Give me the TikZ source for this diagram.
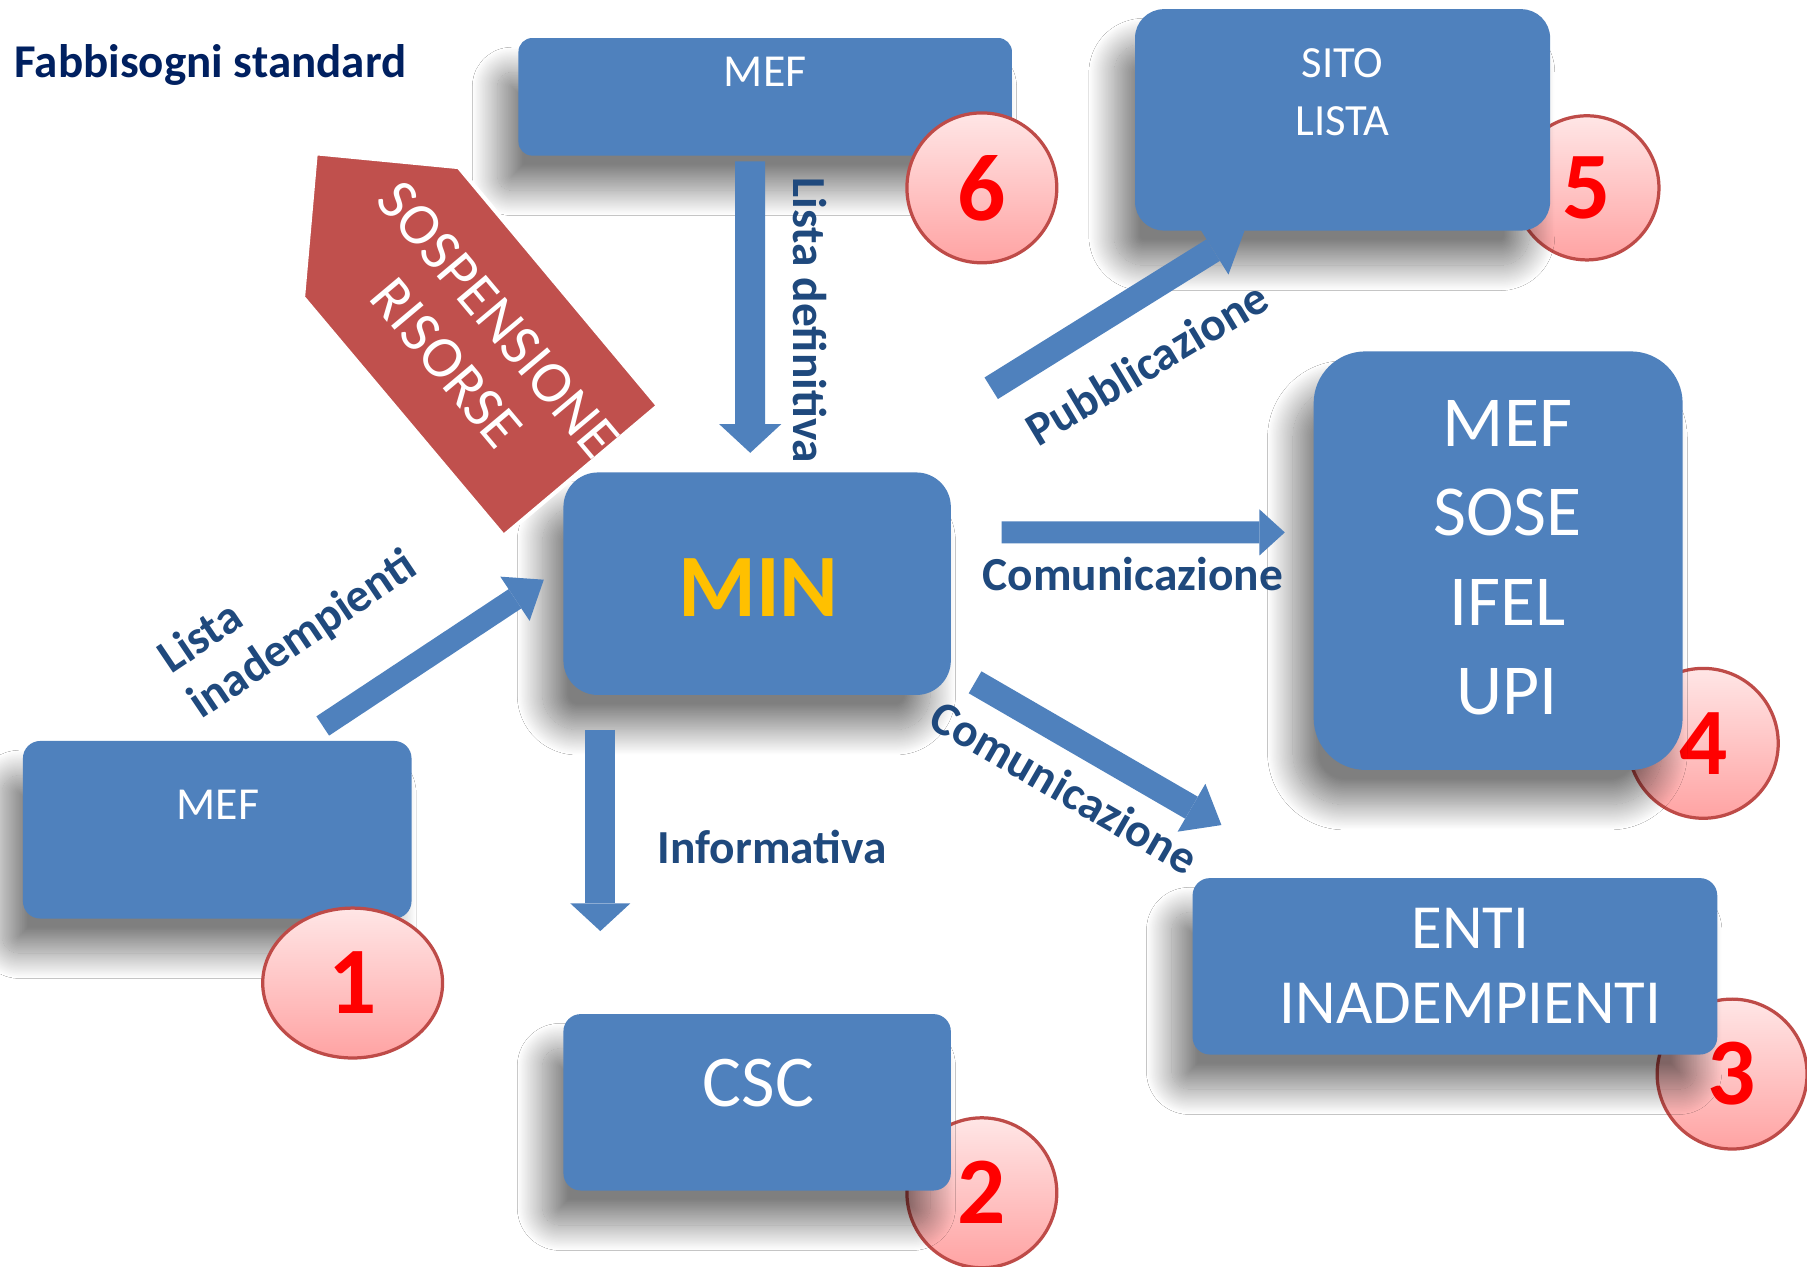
\documentclass[tikz,border=0pt]{standalone}
\usepackage{fontspec}
\setmainfont{Carlito}
\usetikzlibrary{arrows.meta,shapes.geometric,shadows.blur}

\definecolor{boxblue}{HTML}{4F81BD}
\definecolor{titlenavy}{HTML}{002060}
\definecolor{labelblue}{HTML}{1F497D}
\definecolor{minyellow}{HTML}{FFC000}
\definecolor{stopred}{HTML}{C0504D}
\definecolor{ringred}{HTML}{BE4B48}
\definecolor{pinktop}{HTML}{FFE6E6}
\definecolor{pinkbot}{HTML}{FFA3A3}

\begin{document}
\begin{tikzpicture}[x=0.01cm, y=-0.01cm,
    bluebox/.style={fill=boxblue, inner sep=0pt, outer sep=0pt, rounded corners=#1,
        blur shadow={shadow xshift=-0.18cm, shadow yshift=-0.3cm, shadow blur radius=0.22cm,
            shadow blur steps=40, shadow opacity=50}},
    bluebox/.default=0.15cm,
    boxtext/.style={text=white, align=center, inner sep=0pt},
    numdisc/.style={circle, draw=ringred, line width=0.8pt, top color=pinktop, bottom color=pinkbot,
        minimum size=1.3cm, inner sep=0pt, text=red, font=\bfseries\fontsize{23.5}{24}\selectfont},
    flowlabel/.style={text=labelblue, inner sep=0pt, font=\bfseries\fontsize{11.7}{13.5}\selectfont},
    blockarrow/.style n args={3}{draw=boxblue, line width=#1, -{Triangle[width=#2, length=#3, line width=0pt]}}
]
    \fill[white] (0,0) rectangle (1568,1099);
    \useasboundingbox (0,0) rectangle (1568,1099);

    % numbered discs behind the boxes
    \node (n5) [numdisc, minimum size=1.25cm] at (1377,163) {5};
    \node (n4) [numdisc] at (1478,645) {4};
    \node (n3) [numdisc] at (1503,932) {3};
    \node (n2) [numdisc] at (852,1035) {2};

    % boxes
    \node (mefTop) [bluebox=0.12cm, minimum width=4.28cm, minimum height=1.02cm] at (664,84) {};
    \node (sito) [bluebox=0.25cm, minimum width=3.6cm, minimum height=1.92cm] at (1165,104) {};
    \node (min) [bluebox=0.3cm, minimum width=3.36cm, minimum height=1.93cm] at (657,506.5) {};
    \node (mefBig) [bluebox=0.45cm, minimum width=3.2cm, minimum height=3.63cm] at (1300,486.5) {};
    \node (enti) [bluebox, minimum width=4.55cm, minimum height=1.53cm] at (1262.5,838.5) {};
    \node (csc) [bluebox, minimum width=3.36cm, minimum height=1.53cm] at (657,956.5) {};
    \node (mefLeft) [bluebox, minimum width=3.37cm, minimum height=1.54cm] at (188.5,720) {};

    \node (mefTopText) [boxtext, font=\fontsize{11.3}{13}\selectfont] at (664,62) {MEF};
    \node (sitoText) [boxtext, font=\fontsize{11}{14.2}\selectfont] at (1165,80) {SITO\\LISTA};
    \node (minText) [boxtext, text=minyellow, font=\bfseries\fontsize{22}{24}\selectfont] at (658,510) {MIN};
    \node (mefBigText) [boxtext, font=\fontsize{17.7}{22}\selectfont] at (1308,484) {MEF\\SOSE\\IFEL\\UPI};
    \node (entiText) [boxtext, font=\fontsize{15.5}{18.5}\selectfont] at (1276,838) {ENTI\\INADEMPIENTI};
    \node (cscText) [boxtext, font=\fontsize{18}{20}\selectfont] at (658,940) {CSC};
    \node (mefLeftText) [boxtext, font=\fontsize{11.3}{13}\selectfont] at (189,698) {MEF};

    % discs lying over their boxes
    \node (n6) [numdisc] at (852,163) {6};
    \node (n1) [numdisc, ellipse, minimum width=1.56cm, minimum height=1.3cm] at (306,853) {1};

    % block arrows
    \draw[blockarrow={0.26cm}{0.54cm}{0.25cm}]
        ([xshift=-0.13cm, yshift=-0.05cm]mefTop.south) -- ([xshift=-0.06cm, yshift=0.17cm]min.north);
    \draw[blockarrow={0.26cm}{0.52cm}{0.24cm}]
        ([xshift=-1.36cm, yshift=-0.3cm]min.south) -- ([xshift=-1.36cm, yshift=0.72cm]csc.north);
    \draw[blockarrow={0.19cm}{0.4cm}{0.22cm}]
        ([xshift=0.44cm, yshift=0.445cm]min.east) -- ([xshift=-0.25cm, yshift=0.245cm]mefBig.west);
    \draw[blockarrow={0.22cm}{0.48cm}{0.3cm}]
        ([xshift=0.21cm, yshift=0.11cm]min.south east) -- ([xshift=0.25cm, yshift=0.46cm]enti.north west);
    \draw[blockarrow={0.22cm}{0.5cm}{0.32cm}]
        ([xshift=0.35cm, yshift=0.73cm]min.north east) -- ([xshift=0.95cm]sito.south west);
    \draw[blockarrow={0.2cm}{0.46cm}{0.3cm}]
        ([xshift=-0.77cm, yshift=0.13cm]mefLeft.north east) -- ([xshift=-0.17cm, yshift=0.035cm]min.west);

    % sospensione risorse
    \filldraw[fill=stopred, draw=white, line width=1pt]
        (274,133) -- (398,145) -- (571,352) -- (437,465) -- (263,258) -- cycle;
    \node (stop) [boxtext, rotate=-50, font=\fontsize{14.6}{16.7}\selectfont] at (410,296) {SOSPENSIONE\\RISORSE};

    % labels
    \node (title) [anchor=west, text=titlenavy, inner sep=0pt, font=\bfseries\fontsize{11.6}{14}\selectfont] at (12,56) {Fabbisogni standard};
    \node (defLabel) [flowlabel, rotate=-90] at (703,278) {Lista definitiva};
    \node (infoLabel) [flowlabel] at (670,735) {Informativa};
    \node (comLabel) [flowlabel] at (983,498) {Comunicazione};
    \node (comDiagLabel) [flowlabel, rotate=-30] at (924,683) {Comunicazione};
    \node (pubLabel) [flowlabel, rotate=31] at (995,315) {Pubblicazione};
    \node (inadLabel) [flowlabel, rotate=34, align=left] at (250,532) {Lista\\inadempienti};
\end{tikzpicture}
\end{document}
